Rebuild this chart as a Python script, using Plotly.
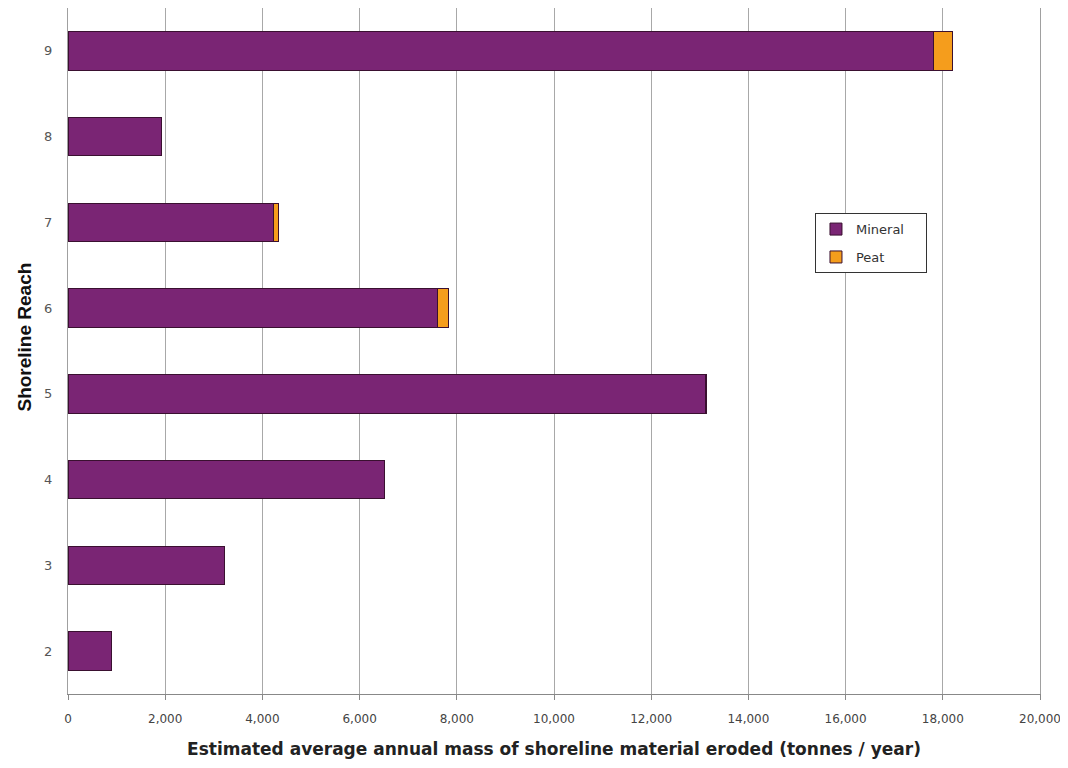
import plotly.graph_objects as go

reaches = ["2", "3", "4", "5", "6", "7", "8", "9"]
mineral = [905, 3230, 6520, 13110, 7600, 4225, 1915, 17800]
peat = [0, 0, 0, 20, 235, 100, 0, 400]
tick_vals = [0, 2000, 4000, 6000, 8000, 10000, 12000, 14000, 16000, 18000, 20000]
pad = "\u00a0" * 4

fig = go.Figure()
fig.add_trace(go.Bar(y=reaches, x=mineral, name="Mineral" + pad, orientation="h", legendgroup="m",
                     marker=dict(color="#7a2574", line=dict(color="#3a1030", width=1))))
fig.add_trace(go.Bar(y=reaches, x=peat, name="Peat", orientation="h", legendgroup="p",
                     marker=dict(color="#f59d1c", line=dict(color="#3a1030", width=1))))

# page body adds an 8px offset; figure sized so plot area lands where the reference has it
fig.update_layout(
    barmode="stack",
    bargap=0.55,
    width=1052, height=752,
    margin=dict(l=60, r=20, t=0, b=66, autoexpand=False),
    paper_bgcolor="white", plot_bgcolor="white",
    font=dict(family="DejaVu Sans", color="#555555"),
    showlegend=True,
    legend=dict(x=0.7685, y=0.701, xanchor="left", yanchor="top",
                bordercolor="#333333", borderwidth=1, bgcolor="white",
                font=dict(size=13, color="#333333", family="DejaVu Sans"),
                traceorder="grouped", itemwidth=30, tracegroupgap=8),
    xaxis=dict(range=[0, 20000], tickvals=tick_vals, tickformat=",d",
               showgrid=True, gridcolor="#a8a8a8", gridwidth=1,
               showline=True, linecolor="#888888", linewidth=1,
               ticks="outside", ticklen=5, tickcolor="#888888",
               tickfont=dict(size=12, color="#444444", family="DejaVu Sans"),
               ticklabeloverflow="allow", ticklabelstandoff=9,
               zeroline=False, automargin=False,
               title=dict(text="<b>Estimated average annual mass of shoreline material eroded (tonnes / year)</b>",
                          font=dict(size=17, color="#222222", family="DejaVu Sans"), standoff=17)),
    yaxis=dict(showline=True, mirror=True, linecolor="#a0a0a0", linewidth=1, showgrid=False,
               ticks="", tickfont=dict(size=13, color="#555555", family="DejaVu Sans"),
               ticklabelstandoff=12, automargin=False),
    annotations=[dict(text="<b>Shoreline Reach</b>", textangle=-90,
                      xref="paper", yref="paper", x=-0.045, y=0.52,
                      xanchor="center", yanchor="middle", showarrow=False,
                      font=dict(size=19, color="#111111", family="Liberation Sans"))],
)

fig.write_html("out.html")
